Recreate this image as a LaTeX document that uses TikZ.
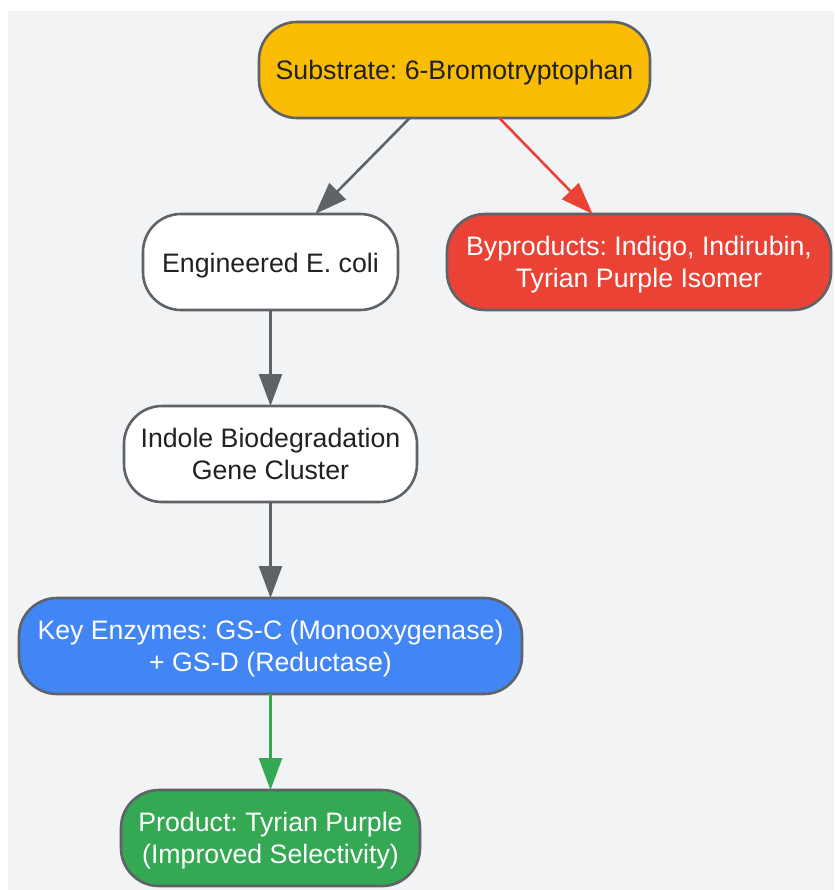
\documentclass[tikz,border=0pt]{standalone}
\usepackage{fontspec}
\setmainfont{Liberation Sans}
\usetikzlibrary{arrows.meta}
\definecolor{bgc}{HTML}{F1F3F4}
\definecolor{edgec}{HTML}{5F6368}
\definecolor{inkc}{HTML}{202124}
\definecolor{yellowc}{HTML}{FBBC04}
\definecolor{redc}{HTML}{EA4335}
\definecolor{bluec}{HTML}{4285F4}
\definecolor{greenc}{HTML}{34A853}
\tikzset{
  x=1pt,y=-1pt,
  box/.style={draw=edgec,line width=2.6pt,rounded corners=38pt,minimum height=96pt,inner sep=0pt,outer sep=0pt,
    font=\fontsize{26.7}{32}\selectfont\frenchspacing,text=inkc},
  lighttext/.style={text=white},
  flow/.style={-{Triangle[length=32pt,width=23pt]},line width=2.6pt,draw=edgec},
}
\newcommand{\oneline}[1]{\raisebox{-10pt}[0pt][0pt]{#1}}
\newcommand{\twolines}[2]{\raisebox{-25pt}[0pt][0pt]{\begin{tabular}[b]{@{}c@{}}#1\\#2\end{tabular}}}
\begin{document}
\begin{tikzpicture}
\useasboundingbox (0,0) rectangle (834,890);
\fill[white] (0,0) rectangle (834,890);
\fill[bgc] (8,11) rectangle (834,890);
\node[box,fill=yellowc,minimum width=391pt] (sub) at (454.5,70) {\oneline{Substrate: 6-Bromotryptophan}};
\node[box,fill=white,minimum width=255pt] (eng) at (270.5,262) {\oneline{Engineered E. coli}};
\node[box,fill=redc,lighttext,minimum width=384pt] (byp) at (639,262) {\twolines{Byproducts: Indigo, Indirubin,}{Tyrian Purple Isomer}};
\node[box,fill=white,minimum width=293pt] (ind) at (270.5,454) {\twolines{Indole Biodegradation}{Gene Cluster}};
\node[box,fill=bluec,lighttext,minimum width=503pt] (key) at (270.5,646) {\twolines{Key Enzymes: GS-C (Monooxygenase)}{+ GS-D (Reductase)}};
\node[box,fill=greenc,lighttext,minimum width=299pt] (prod) at (270.5,838) {\twolines{Product: Tyrian Purple}{(Improved Selectivity)}};
\draw[flow] (sub.227) -- (eng.47);
\draw[flow,draw=redc,fill=redc] (sub.313.5) -- (byp.134.4);
\draw[flow] (eng) -- (ind);
\draw[flow] (ind) -- (key);
\draw[flow,draw=greenc,fill=greenc] (key) -- (prod);
\end{tikzpicture}
\end{document}
